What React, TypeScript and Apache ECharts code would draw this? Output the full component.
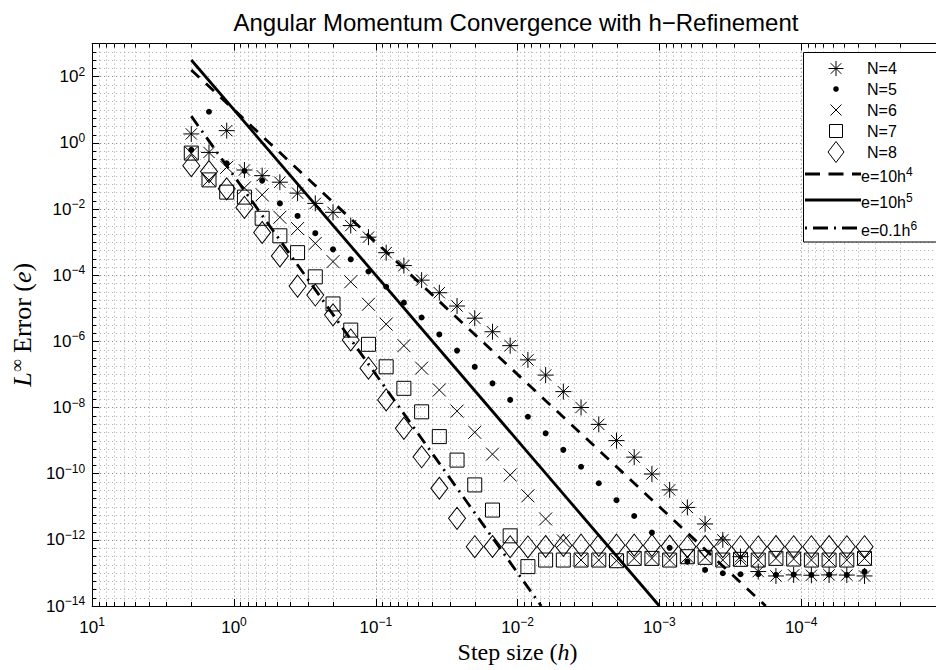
import React, { useEffect, useRef } from 'react';
import * as echarts from 'echarts';

// ---------------- data ----------------
// step sizes h (same for every N)
const H = [
  2, 1.5, 1.125, 0.84375, 0.6328, 0.4746, 0.356, 0.267, 0.2002, 0.1502,
  0.1126, 0.08447, 0.06335, 0.04751, 0.03564, 0.02673, 0.02005, 0.01503, 0.01128, 0.008457,
  0.006342, 0.004757, 0.003568, 0.002676, 0.002007, 0.001505, 0.001129, 0.0008466, 0.000635, 0.0004762,
  0.0003572, 0.0002679, 0.0002009, 0.0001507, 0.000113, 0.00008476, 0.00006357, 0.00004768, 0.00003576,
];

const E_N4 = [
  1.86, 0.513, 2.34, 0.151, 0.102, 0.0646, 0.0302, 0.0148, 7.94e-3, 3.16e-3,
  1.41e-3, 4.79e-4, 1.95e-4, 7.08e-5, 2.95e-5, 1.17e-5, 5.01e-6, 1.95e-6, 7.41e-7, 2.75e-7,
  9.55e-8, 3.02e-8, 1.0e-8, 3.09e-9, 1.0e-9, 3.16e-10, 9.77e-11, 3.24e-11, 9.55e-12, 3.02e-12,
  1.0e-12, 3.09e-13, 1.1e-13, 8.1e-14, 8.7e-14, 8.5e-14, 8.7e-14, 8.6e-14, 8.1e-14,
];
const E_N5 = [
  0.617, 8.71, 0.24, 0.141, 0.0724, 0.0148, 6.17e-3, 1.86e-3, 6.03e-4, 3.02e-4,
  1.29e-4, 4.47e-5, 1.48e-5, 5.25e-6, 1.62e-6, 5.25e-7, 1.7e-7, 5.37e-8, 1.7e-8, 5.25e-9,
  1.66e-9, 5.25e-10, 1.62e-10, 5.13e-11, 1.58e-11, 5.25e-12, 1.66e-12, 5.75e-13, 2.19e-13, 1.23e-13,
  9.77e-14, 9.1e-14, 9.1e-14, 8.7e-14, 8.9e-14, 8.7e-14, 8.8e-14, 8.7e-14, 1.1e-13,
];
const E_N6 = [
  0.49, 0.0759, 0.182, 0.0437, 0.0269, 5.62e-3, 2.57e-3, 9.12e-4, 2.57e-4, 6.31e-5,
  1.32e-5, 3.31e-6, 7.41e-7, 1.55e-7, 3.39e-8, 7.76e-9, 1.78e-9, 3.89e-10, 9.12e-11, 2.14e-11,
  4.27e-12, 9.33e-13, 2.45e-13, 2.45e-13, 2.34e-13, 2.75e-13, 2.75e-13, 2.45e-13, 3.09e-13, 2.95e-13,
  2.45e-13, 2.57e-13, 2.45e-13, 2.75e-13, 2.63e-13, 2.45e-13, 2.45e-13, 2.45e-13, 2.75e-13,
];
const E_N7 = [
  0.49, 0.0759, 0.0324, 0.0229, 5.25e-3, 1.55e-3, 4.79e-4, 8.91e-5, 1.35e-5, 2.19e-6,
  8.13e-7, 1.7e-7, 3.8e-8, 7.41e-9, 1.32e-9, 2.57e-10, 4.57e-11, 7.94e-12, 1.32e-12, 1.55e-13,
  2.45e-13, 2.45e-13, 2.45e-13, 2.45e-13, 2.34e-13, 2.75e-13, 2.75e-13, 2.45e-13, 3.09e-13, 2.95e-13,
  2.45e-13, 2.57e-13, 2.45e-13, 2.75e-13, 2.63e-13, 2.45e-13, 2.45e-13, 2.45e-13, 2.75e-13,
];
const E_N8 = [
  0.204, 0.135, 0.0407, 0.0112, 1.95e-3, 3.8e-4, 4.68e-5, 2.51e-5, 6.31e-6, 1.1e-6,
  1.55e-7, 1.7e-8, 2.34e-9, 3.24e-10, 3.63e-11, 4.47e-12, 6.2e-13, 6.3e-13, 6.2e-13, 6.1e-13,
  6.3e-13, 6.8e-13, 6.9e-13, 6.8e-13, 6.9e-13, 6.9e-13, 6.8e-13, 6.4e-13, 6.2e-13, 6.3e-13,
  6.2e-13, 6.2e-13, 6.1e-13, 6.3e-13, 6.2e-13, 6.2e-13, 6.3e-13, 6.2e-13, 6.2e-13,
];

// reference lines (end points)
const L4_H = [2, 1.778e-4];
const L4_E = [160, 1e-14];
const L5_H = [2, 1e-3];
const L5_E = [320, 1e-14];
const L6_H = [2, 6.81e-3];
const L6_E = [6.4, 1e-14];

const MARKER_NAMES = ['N=4', 'N=5', 'N=6', 'N=7', 'N=8'];
const LINE_BASES = ['e=10h', 'e=10h', 'e=0.1h'];
const LINE_SUPS = ['4', '5', '6'];

const X_TICK_EXP = [1, 0, -1, -2, -3, -4];
const Y_TICK_EXP = [2, 0, -2, -4, -6, -8, -10, -12, -14];

const TITLE = 'Angular Momentum Convergence with h\u2212Refinement';

// ---------------- styling ----------------
const SANS = '"Liberation Sans", Arial, Helvetica, sans-serif';
const SERIF = '"Liberation Serif", "DejaVu Serif", serif';
const GRID_MAJOR = '#7a7a7a';
const GRID_MINOR = '#a8a8a8';

const SYM_AST = 'path://M0,-10L0,10M-10,0L10,0M-7.07,-7.07L7.07,7.07M-7.07,7.07L7.07,-7.07';
const SYM_X = 'path://M-10,-10L10,10M-10,10L10,-10';

const toPts = (h: number[], e: number[]) => h.map((v, i) => [Math.log10(v), Math.log10(e[i])]);
const expText = (v: number) => {
  const n = Math.round(v);
  return n < 0 ? '\u2212' + Math.abs(n) : String(n);
};

const minorX: number[] = [];
for (let d = -5; d < 1; d++) for (let m = 2; m <= 9; m++) minorX.push(d + Math.log10(m));
const minorY: number[] = [];
for (let i = 1; i < 68; i++) if (i % 8 !== 0) minorY.push(-14 + i * 0.25);

const labelRich = {
  b: { fontFamily: SANS, fontSize: 17, lineHeight: 22, color: '#000' },
  s: { fontFamily: SANS, fontSize: 12, lineHeight: 8, verticalAlign: 'top', color: '#000' },
};

function buildLegend() {
  const rows = [68.5, 89, 110, 131, 152, 174, 200, 228];
  const mx = 836;
  const lx0 = 805;
  const lx1 = 861;
  const tx = 867;
  const els: any[] = [];
  els.push({
    type: 'rect',
    shape: { x: 803.5, y: 52.5, width: 200, height: 189.5 },
    style: { fill: '#fff', stroke: '#000', lineWidth: 1 },
    z: 100,
  });
  const st = { stroke: '#000', lineWidth: 1, fill: 'none' };
  // asterisk
  const a = 7.5;
  const ad = 5.3;
  const y0 = rows[0];
  els.push({ type: 'line', shape: { x1: mx, y1: y0 - a, x2: mx, y2: y0 + a }, style: st, z: 101 });
  els.push({ type: 'line', shape: { x1: mx - a, y1: y0, x2: mx + a, y2: y0 }, style: st, z: 101 });
  els.push({ type: 'line', shape: { x1: mx - ad, y1: y0 - ad, x2: mx + ad, y2: y0 + ad }, style: st, z: 101 });
  els.push({ type: 'line', shape: { x1: mx - ad, y1: y0 + ad, x2: mx + ad, y2: y0 - ad }, style: st, z: 101 });
  // dot
  els.push({ type: 'circle', shape: { cx: mx, cy: rows[1], r: 2.8 }, style: { fill: '#000' }, z: 101 });
  // x
  const xh = 5.5;
  els.push({ type: 'line', shape: { x1: mx - xh, y1: rows[2] - xh, x2: mx + xh, y2: rows[2] + xh }, style: st, z: 101 });
  els.push({ type: 'line', shape: { x1: mx - xh, y1: rows[2] + xh, x2: mx + xh, y2: rows[2] - xh }, style: st, z: 101 });
  // square
  els.push({ type: 'rect', shape: { x: mx - 6.5, y: rows[3] - 6.5, width: 13, height: 13 }, style: st, z: 101 });
  // diamond
  els.push({
    type: 'polygon',
    shape: { points: [[mx, rows[4] - 10.5], [mx + 8, rows[4]], [mx, rows[4] + 10.5], [mx - 8, rows[4]]] },
    style: st,
    z: 101,
  });
  // lines
  const dashes = [[15, 8.5], [], [2, 6, 15, 6]];
  for (let i = 0; i < 3; i++) {
    els.push({
      type: 'line',
      shape: { x1: lx0, y1: rows[5 + i], x2: lx1, y2: rows[5 + i] },
      style: { stroke: '#000', lineWidth: 3, lineDash: dashes[i].length ? dashes[i] : null },
      z: 101,
    });
  }
  for (let i = 0; i < 5; i++) {
    els.push({
      type: 'text',
      x: tx,
      y: rows[i],
      style: { text: MARKER_NAMES[i], fontFamily: SANS, fontSize: 16, fill: '#000', align: 'left', verticalAlign: 'middle' },
      z: 102,
    });
  }
  for (let i = 0; i < 3; i++) {
    els.push({
      type: 'text',
      x: tx - 6,
      y: rows[5 + i] + 2,
      style: {
        text: `{b|${LINE_BASES[i]}}{s|${LINE_SUPS[i]}}`,
        rich: {
          b: { fontFamily: SANS, fontSize: 16, lineHeight: 20, fill: '#000' },
          s: { fontFamily: SANS, fontSize: 12, lineHeight: 7, verticalAlign: 'top', fill: '#000' },
        },
        align: 'left',
        verticalAlign: 'middle',
      },
      z: 102,
    });
  }
  return els;
}

export default function App() {
  const ref = useRef<HTMLDivElement>(null);
  useEffect(() => {
    if (!ref.current) return;
    const chart = echarts.init(ref.current, undefined, { renderer: 'svg' });

    const axisBase = {
      type: 'value' as const,
      axisLine: { show: true, onZero: false, lineStyle: { color: '#000', width: 1 } },
      axisTick: { show: true, inside: true, length: 7, lineStyle: { color: '#000', width: 1 } },
    };

    const scatter = (name: string, e: number[], symbol: string, size: any, filled: boolean) => ({
      name,
      type: 'scatter',
      data: toPts(H, e),
      symbol,
      symbolSize: size,
      z: 3,
      itemStyle: filled
        ? { color: '#000', opacity: 1 }
        : { color: 'rgba(0,0,0,0)', borderColor: '#000', borderWidth: 1, opacity: 1 },
      emphasis: { disabled: true },
    });

    const line = (name: string, h: number[], e: number[], type: any) => ({
      name,
      type: 'line',
      data: toPts(h, e),
      showSymbol: false,
      symbol: 'none',
      z: 4,
      lineStyle: { color: '#000', width: 2.8, type },
      emphasis: { disabled: true },
    });

    const option: any = {
      animation: false,
      backgroundColor: '#fff',
      textStyle: { fontFamily: SANS },
      grid: { left: 87, right: 1, top: 43.6, bottom: 64, containLabel: false },
      xAxis: [
        {
          ...axisBase,
          min: -5,
          max: 1,
          interval: 1,
          inverse: true,
          position: 'bottom',
          axisLabel: {
            margin: 10,
            formatter: (v: number) =>
              X_TICK_EXP.includes(Math.round(v)) ? `{b|10}{s|${expText(v)}}` : '',
            rich: labelRich,
          },
          splitLine: { show: true, lineStyle: { color: GRID_MAJOR, width: 1, type: [1, 3] } },
          name: '{r|Step size (}{i|h}{r|)}',
          nameLocation: 'middle',
          nameGap: 34,
          nameTextStyle: {
            rich: {
              r: { fontFamily: SERIF, fontSize: 24, color: '#000' },
              i: { fontFamily: SERIF, fontSize: 24, fontStyle: 'italic', color: '#000' },
            },
          },
        },
        {
          ...axisBase,
          min: -5,
          max: 1,
          interval: 1,
          inverse: true,
          position: 'top',
          axisLabel: { show: false },
          splitLine: { show: false },
        },
      ],
      yAxis: [
        {
          ...axisBase,
          min: -14,
          max: 3,
          interval: 2,
          position: 'left',
          axisLabel: {
            margin: 7,
            formatter: (v: number) =>
              Y_TICK_EXP.includes(Math.round(v)) ? `{b|10}{s|${expText(v)}}` : '',
            rich: labelRich,
          },
          splitLine: { show: true, lineStyle: { color: GRID_MAJOR, width: 1, type: [1, 3] } },
          name: '{i|L}{s|\u221e}{r| Error (}{i|e}{r|)}',
          nameLocation: 'middle',
          nameRotate: 90,
          nameGap: 50,
          nameTextStyle: {
            rich: {
              r: { fontFamily: SERIF, fontSize: 26, lineHeight: 28, color: '#000' },
              i: { fontFamily: SERIF, fontSize: 26, lineHeight: 28, fontStyle: 'italic', color: '#000' },
              s: { fontFamily: SERIF, fontSize: 18, lineHeight: 12, verticalAlign: 'top', color: '#000' },
            },
          },
        },
      ],
      graphic: [
        {
          type: 'text',
          x: 516,
          y: 22,
          style: {
            text: TITLE,
            fontFamily: SANS,
            fontSize: 24,
            fill: '#000',
            align: 'center',
            verticalAlign: 'middle',
          },
        },
        ...buildLegend(),
      ],
      series: [
        {
          type: 'custom',
          silent: true,
          z: 1,
          data: minorX.map((v) => [v, -14]),
          encode: { x: 0, y: 1 },
          renderItem: (_p: any, api: any) => {
            const v = api.value(0);
            const b = api.coord([v, -14]);
            const t = api.coord([v, 3]);
            const x = Math.round(b[0]) + 0.5;
            return {
              type: 'group',
              children: [
                { type: 'line', shape: { x1: x, y1: t[1], x2: x, y2: b[1] }, style: { stroke: GRID_MINOR, lineWidth: 1, lineDash: [1, 3] } },
                { type: 'line', shape: { x1: x, y1: b[1], x2: x, y2: b[1] - 4 }, style: { stroke: '#000', lineWidth: 1 } },
                { type: 'line', shape: { x1: x, y1: t[1], x2: x, y2: t[1] + 4 }, style: { stroke: '#000', lineWidth: 1 } },
              ],
            };
          },
        },
        {
          type: 'custom',
          silent: true,
          z: 1,
          data: minorY.map((v) => [1, v]),
          encode: { x: 0, y: 1 },
          renderItem: (_p: any, api: any) => {
            const v = api.value(1);
            const l = api.coord([1, v]);
            const r = api.coord([-5, v]);
            const y = Math.round(l[1]) + 0.5;
            return {
              type: 'group',
              children: [
                { type: 'line', shape: { x1: l[0], y1: y, x2: r[0], y2: y }, style: { stroke: GRID_MINOR, lineWidth: 1, lineDash: [1, 3] } },
                { type: 'line', shape: { x1: l[0], y1: y, x2: l[0] + 4, y2: y }, style: { stroke: '#000', lineWidth: 1 } },
              ],
            };
          },
        },
        scatter('N=4', E_N4, SYM_AST, 16, false),
        scatter('N=5', E_N5, 'circle', 6, true),
        scatter('N=6', E_N6, SYM_X, 13, false),
        scatter('N=7', E_N7, 'rect', 14, false),
        scatter('N=8', E_N8, 'diamond', [17, 22], false),
        line('e=10h^4', L4_H, L4_E, [11, 9]),
        line('e=10h^5', L5_H, L5_E, 'solid'),
        line('e=0.1h^6', L6_H, L6_E, [12, 6, 2, 6]),
      ],
    };
    chart.setOption(option);
    return () => chart.dispose();
  }, []);

  return (
    <div
      style={{
        position: 'fixed',
        left: 0,
        top: 0,
        width: 936,
        height: 670,
        overflow: 'hidden',
        background: '#fff',
      }}
    >
      <div ref={ref} style={{ width: 946, height: 670 }} />
    </div>
  );
}
